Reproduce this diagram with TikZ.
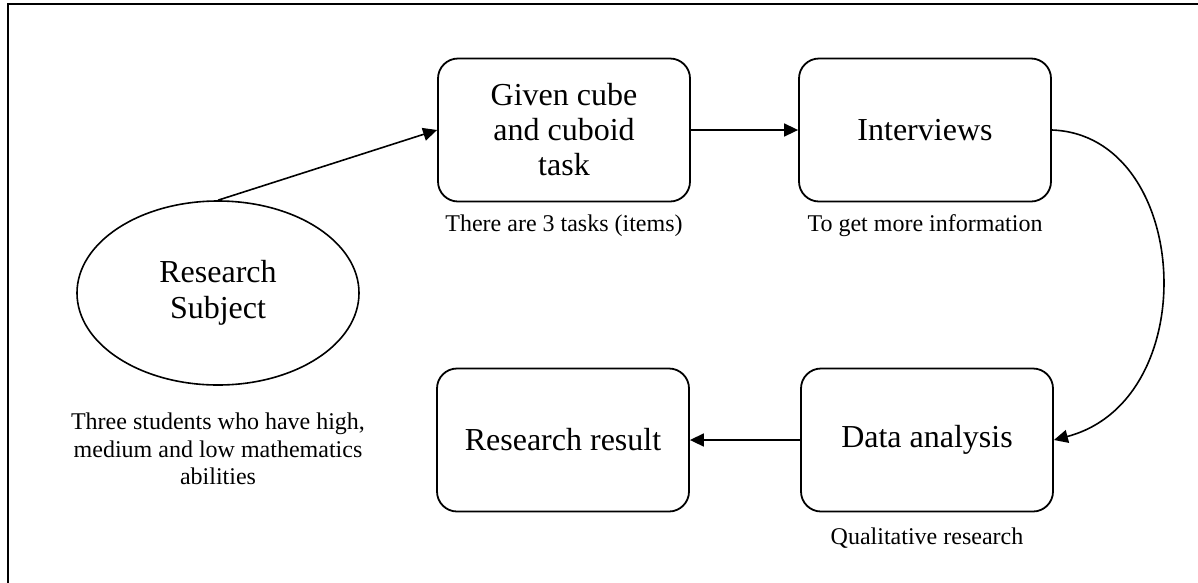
\documentclass[tikz,border=0pt]{standalone}
\usepackage{fontspec}
\setmainfont{Liberation Serif}
\usetikzlibrary{positioning,shapes.geometric,arrows.meta}

\begin{document}
\begin{tikzpicture}[x=1pt, y=-1pt,
process/.style={rectangle, rounded corners=20pt, draw=black, line width=1.8pt, minimum width=252pt, minimum height=143pt, align=center, font=\fontsize{32}{35}\selectfont},
subject/.style={ellipse, draw=black, line width=1.6pt, minimum width=282pt, minimum height=184pt, inner sep=0pt, align=center, font=\fontsize{32}{36}\selectfont},
note/.style={align=center, inner sep=0pt, font=\fontsize{24}{27.5}\selectfont},
flow/.style={line width=1.6pt, -{Triangle[length=14pt, width=13pt]}},
]
\useasboundingbox (0,0) rectangle (1198,582);
\clip (0,0) rectangle (1198,582);
\draw[line width=2pt] (8,600) |- (1220,4);

\node[subject] (subject) at (218,293) {Research\\Subject};
\node[process] (task) at (564,130) {Given cube\\and cuboid\\task};
\node[process] (interview) at (925,130) {Interviews};
\node[process] (analysis) at (927,440) {Data analysis};
\node[process] (result) at (563,440) {Research result};

\node[note, below=27pt of subject] (subjectnote) {Three students who have high,\\medium and low mathematics\\abilities};
\node[note, below=12pt of task] (tasknote) {There are 3 tasks (items)};
\node[note, below=12pt of interview] (interviewnote) {To get more information};
\node[note, below=15pt of analysis] (analysisnote) {Qualitative research};

\draw[flow] (subject.north) -- (task.west);
\draw[flow] (task.east) -- (interview.west);
\draw[flow] (interview.east) .. controls +(139,5) and +(152,-40) .. (analysis.east);
\draw[flow] (analysis.west) -- (result.east);
\end{tikzpicture}
\end{document}
